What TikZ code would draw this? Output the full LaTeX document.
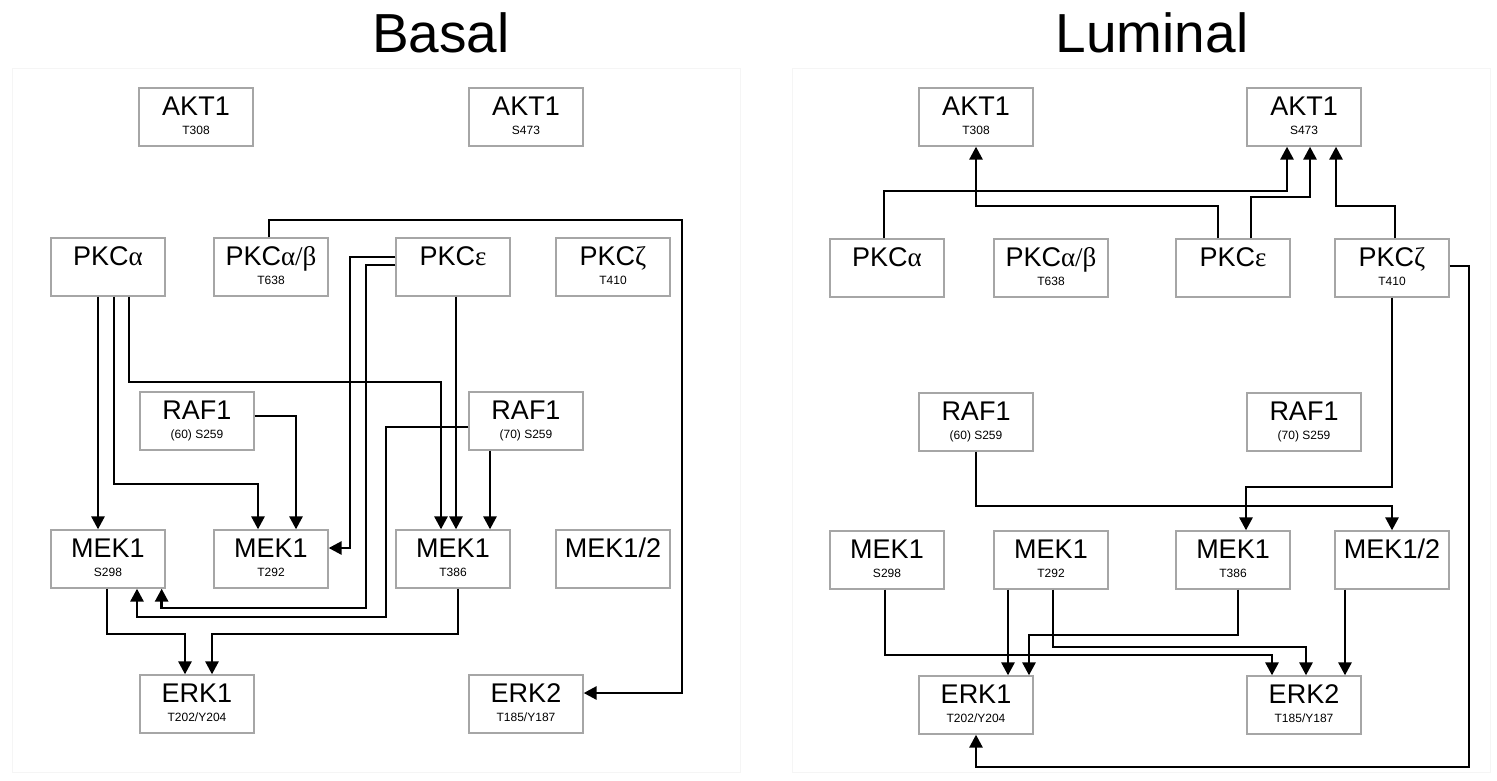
\documentclass[tikz,border=0pt]{standalone}
\usepackage{fontspec}
\setmainfont{Liberation Sans}
\newfontfamily\grk{Liberation Serif}
\usetikzlibrary{arrows.meta}
\tikzset{
  kbox/.style={draw=black!35, line width=1.3pt, minimum width=114pt, minimum height=58pt, inner sep=0pt, fill=white},
  mtxt/.style={anchor=base, inner sep=0pt, font=\fontsize{27}{27}\selectfont},
  stxt/.style={anchor=base, inner sep=0pt, font=\fontsize{12}{12}\selectfont},
  arr/.style={line width=2.8pt, -{Triangle[length=13pt,width=13pt]}, line join=miter},
  ttl/.style={anchor=base, inner sep=0pt, font=\fontsize{55}{55}\selectfont},
  panel/.style={draw=black!4, line width=1pt}
}
\newcommand\kinbox[5]{%
  \node[kbox] (#1) at (#2,#3) {};
  \node[mtxt] (#1m) at ([yshift=-28pt]#1.north) {#4};
  \node[stxt] (#1s) at ([yshift=-47pt]#1.north) {#5};
}
\begin{document}
\begin{tikzpicture}[x=1pt,y=-1pt]
\useasboundingbox (0,0) rectangle (1497,780);
\fill[white] (0,0) rectangle (1497,780);
\draw[panel] (12,68) rectangle (740,772);
\draw[panel] (792,68) rectangle (1490,772);
\node[ttl] (tB) at (441,52) {Basal};
\node[ttl] (tL) at (1152,52) {Luminal};
% ---------- Basal ----------
\kinbox{lAKTa}{196}{117}{AKT1}{T308}
\kinbox{lAKTb}{526}{117}{AKT1}{S473}
\kinbox{lPKCa}{108}{267}{PKC{\grk α}}{}
\kinbox{lPKCab}{271}{267}{PKC{\grk α/β}}{T638}
\kinbox{lPKCe}{453}{267}{PKC{\grk ε}}{}
\kinbox{lPKCz}{613}{267}{PKC{\grk ζ}}{T410}
\kinbox{lRAFa}{197}{421}{RAF1}{(60) S259}
\kinbox{lRAFb}{526}{421}{RAF1}{(70) S259}
\kinbox{lMEKa}{108}{559}{MEK1}{S298}
\kinbox{lMEKb}{271}{559}{MEK1}{T292}
\kinbox{lMEKc}{453}{559}{MEK1}{T386}
\kinbox{lMEKd}{613}{559}{MEK1/2}{}
\kinbox{lERKa}{197}{704}{ERK1}{T202/Y204}
\kinbox{lERKb}{526}{704}{ERK2}{T185/Y187}
\draw[arr] ([xshift=-2pt]lPKCab.north) |- (682,220) |- ([yshift=11pt]lERKb.east);
\draw[arr] ([yshift=10pt]lPKCe.west) -| (350,548) -- ([yshift=11pt]lMEKb.east);
\draw[arr] ([yshift=2pt]lPKCe.west) -| (366,608) -| ([xshift=-4pt]lMEKa.south east);
\draw[arr] ([yshift=-6pt]lRAFb.west) -| (386,617) -| ([xshift=29pt]lMEKa.south);
\draw[arr] ([xshift=3pt]lPKCe.south) -- ([xshift=3pt]lMEKc.north);
\draw[arr] ([xshift=-10pt]lPKCa.south) -- ([xshift=-10pt]lMEKa.north);
\draw[arr] ([xshift=6pt]lPKCa.south) |- (258,484) -- ([xshift=-13pt]lMEKb.north);
\draw[arr] ([xshift=21pt]lPKCa.south) |- (441,382) -- ([xshift=-12pt]lMEKc.north);
\draw[arr] ([yshift=5pt]lRAFa.east) -| ([xshift=25pt]lMEKb.north);
\draw[arr] ([xshift=-36pt]lRAFb.south) -- ([xshift=37pt]lMEKc.north);
\draw[arr] ([xshift=-1pt]lMEKa.south) |- (185,634) -- ([xshift=-12pt]lERKa.north);
\draw[arr] ([xshift=5pt]lMEKc.south) |- (212,634) -- ([xshift=15pt]lERKa.north);
% ---------- Luminal ----------
\kinbox{rAKTa}{976}{117}{AKT1}{T308}
\kinbox{rAKTb}{1304}{117}{AKT1}{S473}
\kinbox{rPKCa}{887}{268}{PKC{\grk α}}{}
\kinbox{rPKCab}{1051}{268}{PKC{\grk α/β}}{T638}
\kinbox{rPKCe}{1233}{268}{PKC{\grk ε}}{}
\kinbox{rPKCz}{1392}{268}{PKC{\grk ζ}}{T410}
\kinbox{rRAFa}{976}{422}{RAF1}{(60) S259}
\kinbox{rRAFb}{1304}{422}{RAF1}{(70) S259}
\kinbox{rMEKa}{887}{560}{MEK1}{S298}
\kinbox{rMEKb}{1051}{560}{MEK1}{T292}
\kinbox{rMEKc}{1233}{560}{MEK1}{T386}
\kinbox{rMEKd}{1392}{560}{MEK1/2}{}
\kinbox{rERKa}{976}{705}{ERK1}{T202/Y204}
\kinbox{rERKb}{1304}{705}{ERK2}{T185/Y187}
\draw[arr] ([xshift=-15pt]rPKCe.north) |- (976,206) -- (rAKTa.south);
\draw[arr] ([xshift=-3pt]rPKCa.north) |- (1287,191) -- ([xshift=-17pt]rAKTb.south);
\draw[arr] ([xshift=18pt]rPKCe.north) |- (1310,197) -- ([xshift=6pt]rAKTb.south);
\draw[arr] ([xshift=3pt]rPKCz.north) |- (1336,206) -- ([xshift=32pt]rAKTb.south);
\draw[arr] ([yshift=2pt]rPKCz.east) -| (1469,767) -| (rERKa.south);
\draw[arr] (rPKCz.south) |- (1246,487) -- ([xshift=13pt]rMEKc.north);
\draw[arr] (rRAFa.south) |- (1392,506) -- (rMEKd.north);
\draw[arr] ([xshift=-2pt]rMEKa.south) |- (1272,655) -- ([xshift=-32pt]rERKb.north);
\draw[arr] ([xshift=-43pt]rMEKb.south) -- ([xshift=32pt]rERKa.north);
\draw[arr] ([xshift=2pt]rMEKb.south) |- (1306,647) -- ([xshift=2pt]rERKb.north);
\draw[arr] ([xshift=5pt]rMEKc.south) |- (1029,635) -- ([xshift=53pt]rERKa.north);
\draw[arr] ([xshift=-47pt]rMEKd.south) -- ([xshift=41pt]rERKb.north);
\end{tikzpicture}
\end{document}
